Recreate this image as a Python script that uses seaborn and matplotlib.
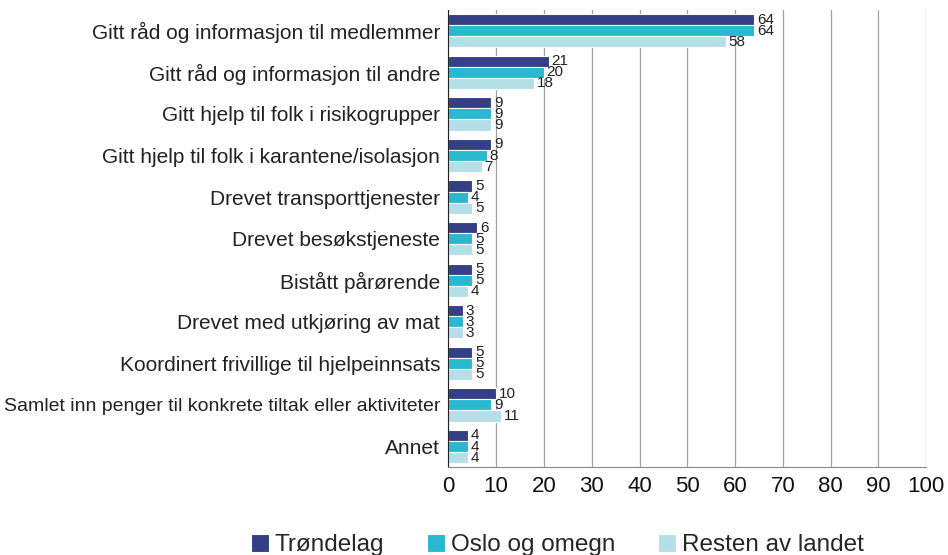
import pandas as pd
import seaborn as sns
import matplotlib.pyplot as plt

categories = [
    'Gitt råd og informasjon til medlemmer',
    'Gitt råd og informasjon til andre',
    'Gitt hjelp til folk i risikogrupper',
    'Gitt hjelp til folk i karantene/isolasjon',
    'Drevet transporttjenester',
    'Drevet besøkstjeneste',
    'Bistått pårørende',
    'Drevet med utkjøring av mat',
    'Koordinert frivillige til hjelpeinnsats',
    'Samlet inn penger til konkrete tiltak eller aktiviteter',
    'Annet',
]
series = ['Trøndelag', 'Oslo og omegn', 'Resten av landet']
trondelag = [64, 21, 9, 9, 5, 6, 5, 3, 5, 10, 4]
oslo = [64, 20, 9, 8, 4, 5, 5, 3, 5, 9, 4]
resten = [58, 18, 9, 7, 5, 5, 4, 3, 5, 11, 4]
colors = ['#333f87', '#29b8cf', '#b5dfe8']

rows = []
for name, vals in zip(series, [trondelag, oslo, resten]):
    for cat, v in zip(categories, vals):
        rows.append({'kategori': cat, 'region': name, 'verdi': v})
df = pd.DataFrame(rows)

sns.set_style('white')
plt.rcParams['font.family'] = ['Liberation Sans', 'DejaVu Sans']

fig, ax = plt.subplots(figsize=(9.48, 5.55), dpi=100)
sns.barplot(data=df, y='kategori', x='verdi', hue='region', orient='h',
            palette=colors, saturation=1, width=0.8, edgecolor='white',
            linewidth=0.8, ax=ax)

for cont in ax.containers:
    ax.bar_label(cont, padding=2, fontsize=11, color='#222222')

ax.set_xlim(0, 100)
ax.set_xticks(range(0, 101, 10))
ax.tick_params(axis='x', labelsize=16, length=0, pad=6, colors='#111111')
ax.tick_params(axis='y', labelsize=15, length=0, pad=6, colors='#222222')
# the long label is a little narrower in the original
for lab in ax.get_yticklabels():
    if lab.get_text().startswith('Samlet'):
        lab.set_fontsize(14)
ax.set_xlabel('')
ax.set_ylabel('')
ax.xaxis.grid(True, color='#a0a0a0', linewidth=0.9)
ax.set_axisbelow(True)
for s in ['top', 'right']:
    ax.spines[s].set_visible(False)
ax.spines['left'].set_color('#222222')
ax.spines['bottom'].set_color('#888888')

handles, labels = ax.get_legend_handles_labels()
ax.get_legend().remove()
fig.legend(handles, labels, loc='center', bbox_to_anchor=(0.588, 0.018),
           ncol=3, frameon=False, fontsize=17.5, handlelength=0.75,
           handleheight=0.75, columnspacing=1.75, handletextpad=0.25,
           borderpad=0.2)

fig.subplots_adjust(left=0.473, right=0.977, top=0.982, bottom=0.158)
fig.savefig('out.png', dpi=100)
